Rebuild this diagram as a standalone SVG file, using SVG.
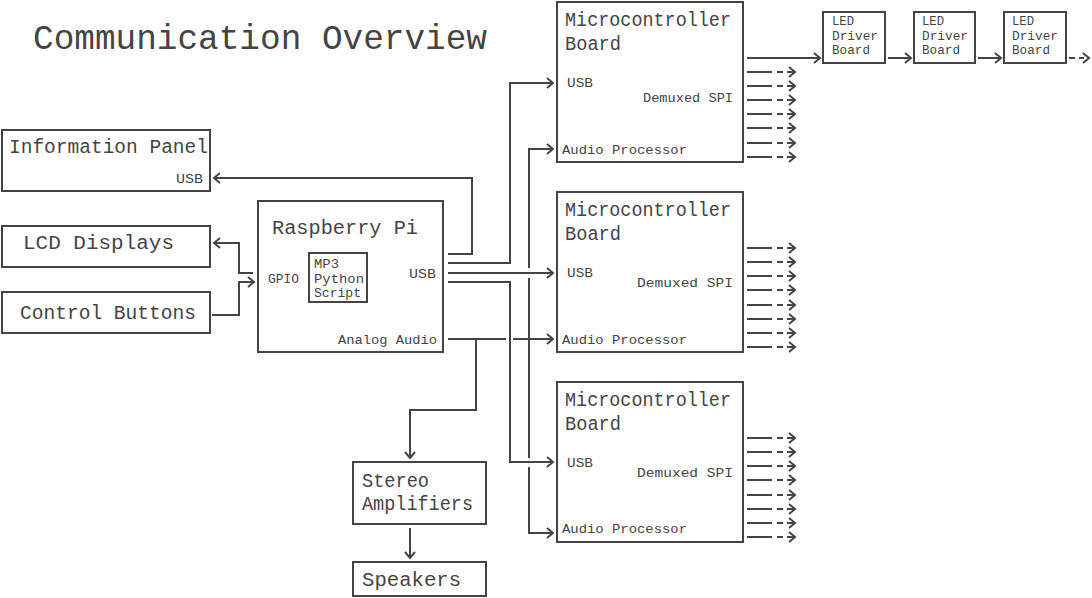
<svg xmlns="http://www.w3.org/2000/svg" xmlns:xlink="http://www.w3.org/1999/xlink" width="1092" height="598" viewBox="0 0 1092 598">
<style>
  .box{fill:none;stroke:#444;stroke-width:2}
  .ln{fill:none;stroke:#444;stroke-width:2}
  .arr{marker-end:url(#ah)}
  text{font-family:"Liberation Mono","DejaVu Sans Mono",monospace;fill:#444}
  .t1{font-size:35px}
  .big{font-size:20px}
  .sm{font-size:13.5px}
  .led{font-size:13px}
</style>
<defs>
  <marker id="ah" markerUnits="userSpaceOnUse" markerWidth="10" markerHeight="14" refX="8" refY="7" orient="auto">
    <path d="M2,2 L8,7 L2,12" fill="none" stroke="#444" stroke-width="2"/>
  </marker>
  <g id="spi">
    <path d="M747,0 H772 M777,0 H783 M787,0 H794 M789,-5 L795,0 L789,5" fill="none" stroke="#444" stroke-width="2"/>
  </g>
</defs>
<rect width="1092" height="598" fill="#fff"/>

<text class="t1" x="33" y="49" textLength="454" lengthAdjust="spacingAndGlyphs">Communication Overview</text>

<g id="info-panel">
  <rect class="box" x="2" y="130" width="208" height="61"/>
  <text class="big" x="9" y="153" textLength="199" lengthAdjust="spacingAndGlyphs">Information Panel</text>
  <text class="sm" x="176" y="183" textLength="27" lengthAdjust="spacingAndGlyphs">USB</text>
</g>
<g id="lcd-displays">
  <rect class="box" x="2" y="226" width="208" height="41"/>
  <text class="big" x="23" y="249" textLength="151" lengthAdjust="spacingAndGlyphs">LCD Displays</text>
</g>
<g id="control-buttons">
  <rect class="box" x="2" y="292" width="208" height="41"/>
  <text class="big" x="20" y="319" textLength="176" lengthAdjust="spacingAndGlyphs">Control Buttons</text>
</g>

<g id="raspberry-pi">
  <rect class="box" x="258" y="201" width="185" height="151"/>
  <text class="big" x="272" y="234" textLength="146" lengthAdjust="spacingAndGlyphs">Raspberry Pi</text>
  <text class="sm" x="268" y="283" textLength="31" lengthAdjust="spacingAndGlyphs">GPIO</text>
  <text class="sm" x="409" y="278" textLength="27" lengthAdjust="spacingAndGlyphs">USB</text>
  <text class="sm" x="338" y="344" textLength="99" lengthAdjust="spacingAndGlyphs">Analog Audio</text>
  <g id="mp3-script">
    <rect class="box" x="309" y="253" width="58" height="49"/>
    <text class="sm" x="314" y="268" textLength="25" lengthAdjust="spacingAndGlyphs">MP3</text>
    <text class="sm" x="314" y="283" textLength="50" lengthAdjust="spacingAndGlyphs">Python</text>
    <text class="sm" x="314" y="297" textLength="47" lengthAdjust="spacingAndGlyphs">Script</text>
  </g>
</g>

<g id="stereo-amplifiers">
  <rect class="box" x="353" y="462" width="133" height="62"/>
  <text class="big" x="362" y="487" textLength="67" lengthAdjust="spacingAndGlyphs">Stereo</text>
  <text class="big" x="362" y="510" textLength="111" lengthAdjust="spacingAndGlyphs">Amplifiers</text>
</g>
<g id="speakers">
  <rect class="box" x="353" y="562" width="133" height="34"/>
  <text class="big" x="362" y="586" textLength="99" lengthAdjust="spacingAndGlyphs">Speakers</text>
</g>

<g id="mcu-1">
  <rect class="box" x="557" y="2" width="186" height="160"/>
  <text class="big" x="565" y="26" textLength="166" lengthAdjust="spacingAndGlyphs">Microcontroller</text>
  <text class="big" x="565" y="50" textLength="56" lengthAdjust="spacingAndGlyphs">Board</text>
  <text class="sm" x="567" y="87" textLength="26" lengthAdjust="spacingAndGlyphs">USB</text>
  <text class="sm" x="643" y="102" textLength="90" lengthAdjust="spacingAndGlyphs">Demuxed SPI</text>
  <text class="sm" x="562" y="154" textLength="125" lengthAdjust="spacingAndGlyphs">Audio Processor</text>
</g>
<g id="mcu-2">
  <rect class="box" x="557" y="192" width="186" height="160"/>
  <text class="big" x="565" y="216" textLength="166" lengthAdjust="spacingAndGlyphs">Microcontroller</text>
  <text class="big" x="565" y="240" textLength="56" lengthAdjust="spacingAndGlyphs">Board</text>
  <text class="sm" x="567" y="277" textLength="26" lengthAdjust="spacingAndGlyphs">USB</text>
  <text class="sm" x="637" y="287" textLength="96" lengthAdjust="spacingAndGlyphs">Demuxed  SPI</text>
  <text class="sm" x="562" y="344" textLength="125" lengthAdjust="spacingAndGlyphs">Audio Processor</text>
</g>
<g id="mcu-3">
  <rect class="box" x="557" y="382" width="186" height="160"/>
  <text class="big" x="565" y="406" textLength="166" lengthAdjust="spacingAndGlyphs">Microcontroller</text>
  <text class="big" x="565" y="430" textLength="56" lengthAdjust="spacingAndGlyphs">Board</text>
  <text class="sm" x="567" y="467" textLength="26" lengthAdjust="spacingAndGlyphs">USB</text>
  <text class="sm" x="637" y="477" textLength="96" lengthAdjust="spacingAndGlyphs">Demuxed  SPI</text>
  <text class="sm" x="562" y="533" textLength="125" lengthAdjust="spacingAndGlyphs">Audio Processor</text>
</g>

<g id="led-driver-1">
  <rect class="box" x="823" y="12" width="62" height="51"/>
  <text class="led" x="832" y="25" textLength="22" lengthAdjust="spacingAndGlyphs">LED</text>
  <text class="led" x="832" y="40" textLength="46" lengthAdjust="spacingAndGlyphs">Driver</text>
  <text class="led" x="832" y="54" textLength="38" lengthAdjust="spacingAndGlyphs">Board</text>
</g>
<g id="led-driver-2">
  <rect class="box" x="914" y="12" width="61" height="51"/>
  <text class="led" x="922" y="25" textLength="22" lengthAdjust="spacingAndGlyphs">LED</text>
  <text class="led" x="922" y="40" textLength="46" lengthAdjust="spacingAndGlyphs">Driver</text>
  <text class="led" x="922" y="54" textLength="38" lengthAdjust="spacingAndGlyphs">Board</text>
</g>
<g id="led-driver-3">
  <rect class="box" x="1004" y="12" width="62" height="51"/>
  <text class="led" x="1012" y="25" textLength="22" lengthAdjust="spacingAndGlyphs">LED</text>
  <text class="led" x="1012" y="40" textLength="46" lengthAdjust="spacingAndGlyphs">Driver</text>
  <text class="led" x="1012" y="54" textLength="38" lengthAdjust="spacingAndGlyphs">Board</text>
</g>

<g id="connectors">
  <path class="ln arr" d="M448,254 H472 V178 H214"/>
  <path class="ln arr" d="M448,263 H510 V83 H553"/>
  <path class="ln arr" d="M448,273 H553"/>
  <path class="ln arr" d="M448,282 H510 V462 H553"/>
  <path class="ln" d="M448,339 H506"/>
  <path class="ln arr" d="M513,339 H553"/>
  <path class="ln arr" d="M529,268 V149 H553"/>
  <path class="ln" d="M529,278 V458"/>
  <path class="ln arr" d="M529,467 V533 H553"/>
  <path class="ln arr" d="M476,339 V410 H410 V458"/>
  <path class="ln arr" d="M410,528 V558"/>
  <path class="ln arr" d="M253,273 H239 V243 H214"/>
  <path class="ln arr" d="M212,315 H239 V282 H254"/>
  <path class="ln arr" d="M747,58 H820"/>
  <path class="ln arr" d="M888,58 H911"/>
  <path class="ln arr" d="M978,58 H1001"/>
  <path class="ln" d="M1069,58 H1075 M1079,58 H1084"/>
  <path class="ln" d="M1083,53 L1089,58 L1083,63"/>
  <use xlink:href="#spi" y="72"/><use xlink:href="#spi" y="86"/><use xlink:href="#spi" y="100"/><use xlink:href="#spi" y="114"/><use xlink:href="#spi" y="128"/><use xlink:href="#spi" y="143"/><use xlink:href="#spi" y="157"/>
  <use xlink:href="#spi" y="248"/><use xlink:href="#spi" y="262"/><use xlink:href="#spi" y="276"/><use xlink:href="#spi" y="290"/><use xlink:href="#spi" y="305"/><use xlink:href="#spi" y="319"/><use xlink:href="#spi" y="333"/><use xlink:href="#spi" y="347"/>
  <use xlink:href="#spi" y="438"/><use xlink:href="#spi" y="452"/><use xlink:href="#spi" y="466"/><use xlink:href="#spi" y="480"/><use xlink:href="#spi" y="495"/><use xlink:href="#spi" y="509"/><use xlink:href="#spi" y="523"/><use xlink:href="#spi" y="537"/>
</g>
</svg>
